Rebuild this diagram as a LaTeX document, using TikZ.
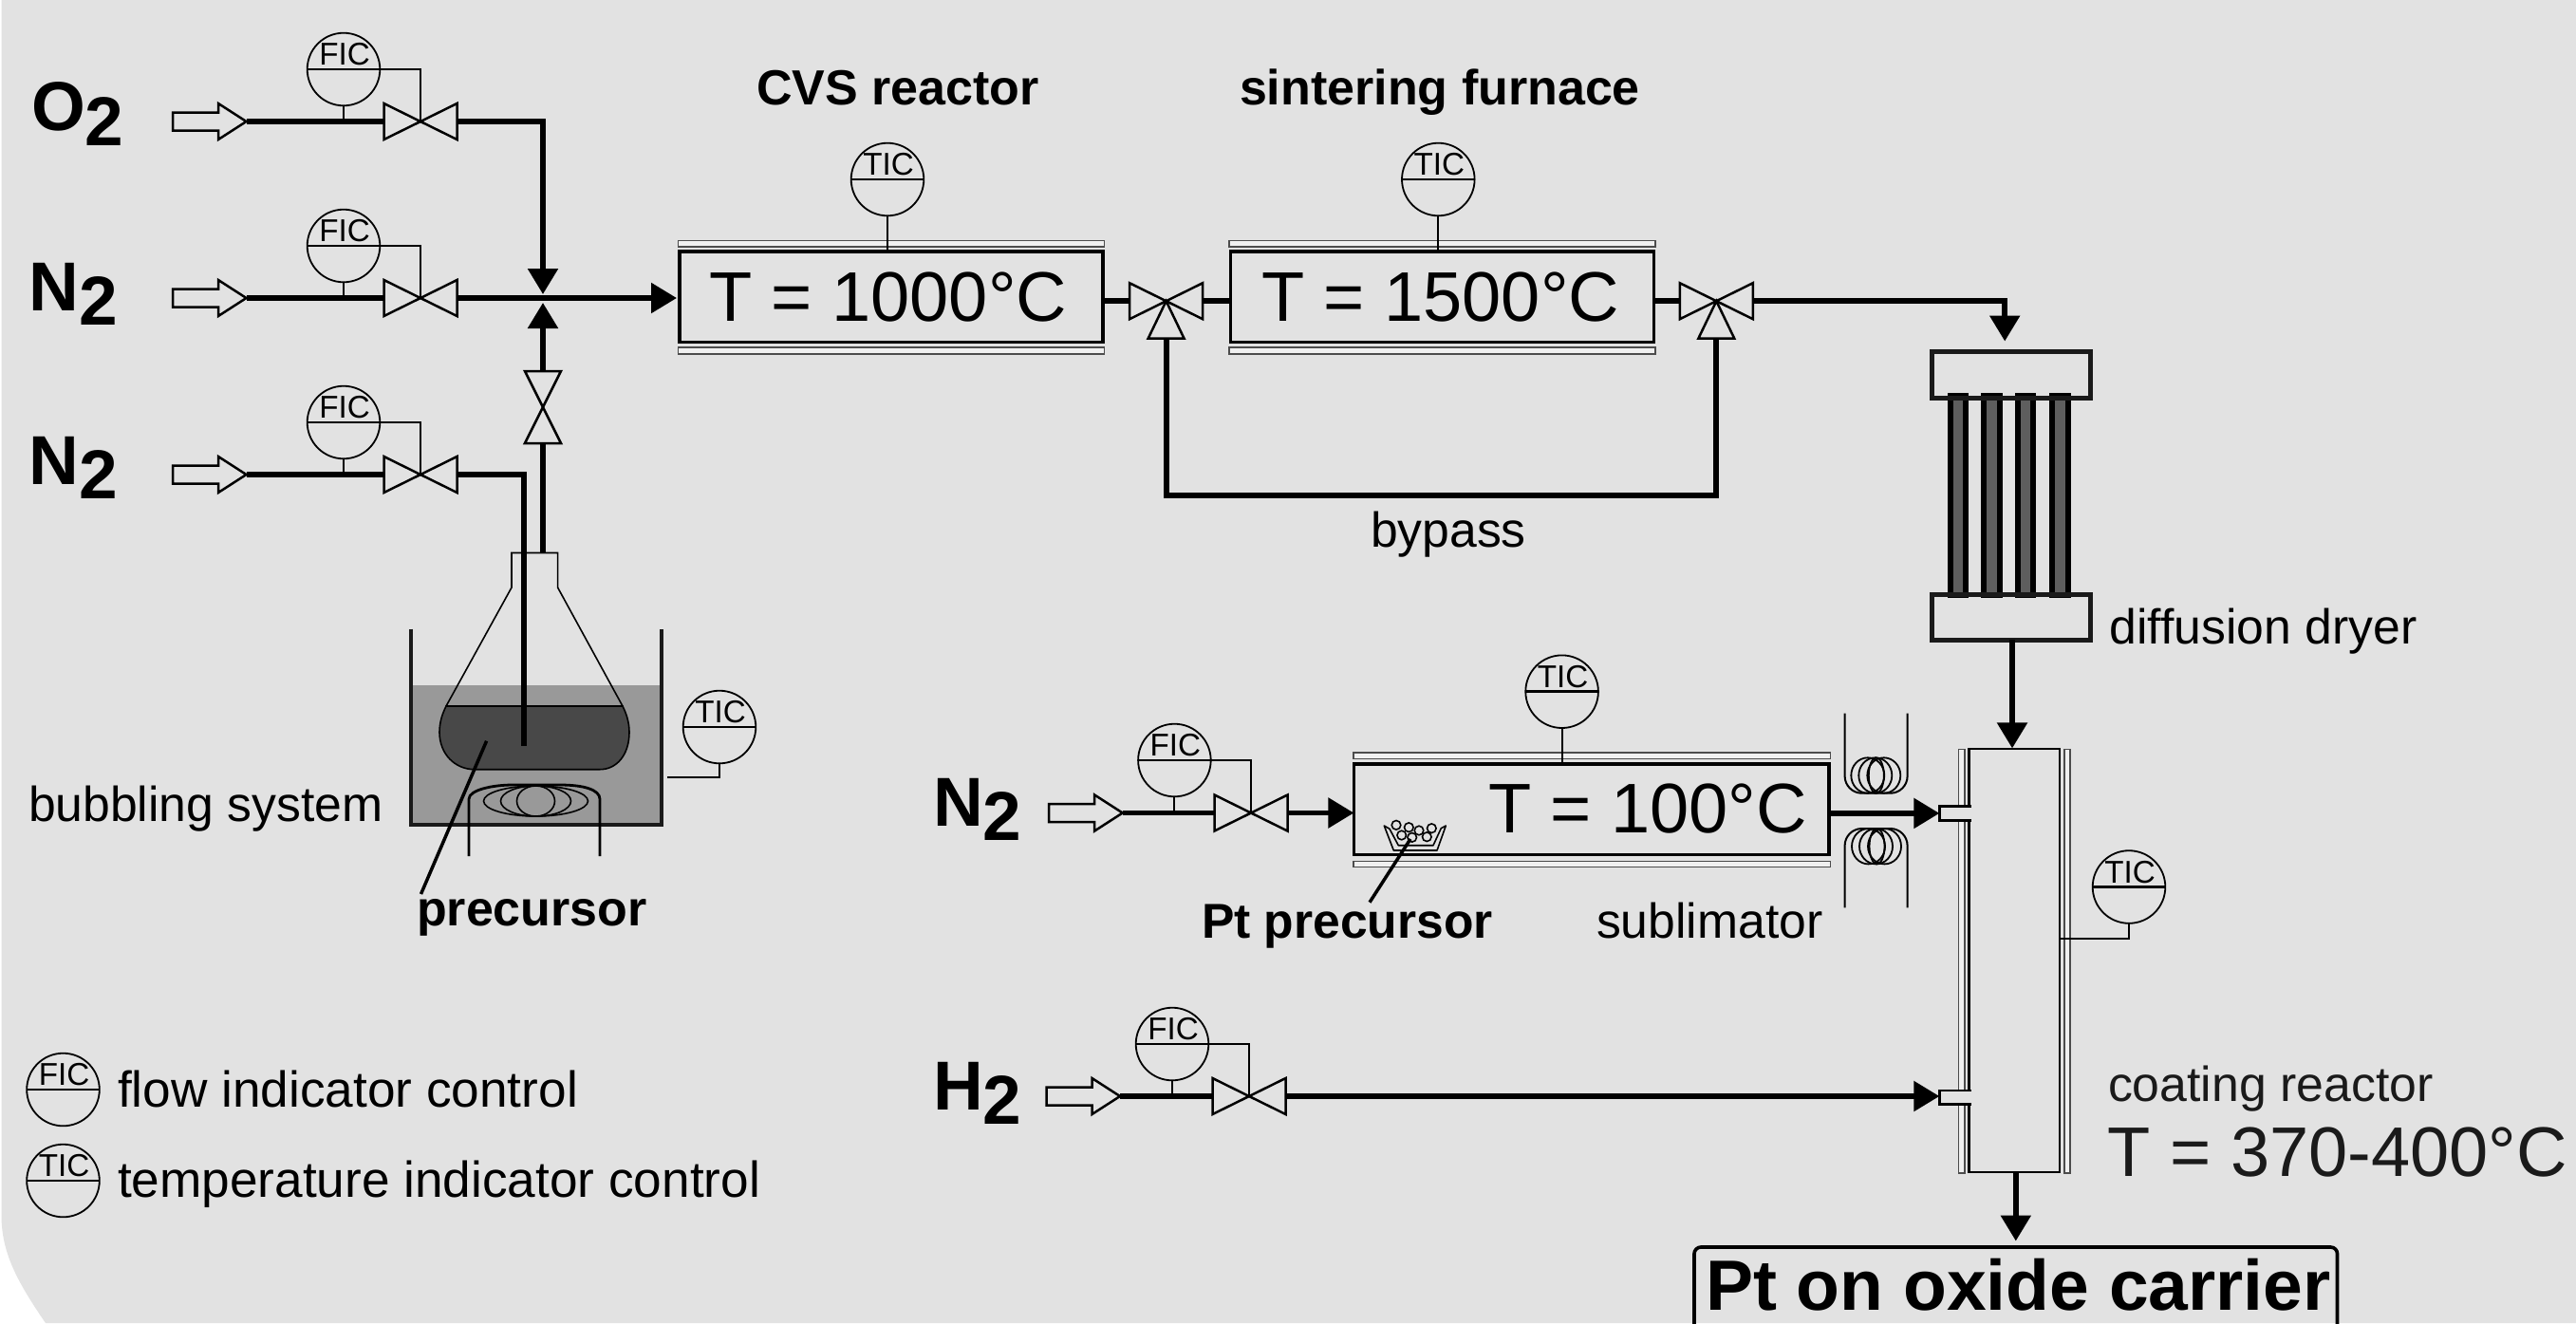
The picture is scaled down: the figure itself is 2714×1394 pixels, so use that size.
\documentclass[tikz,border=0pt]{standalone}
\usepackage{fontspec}
\setmainfont[Ligatures=NoCommon]{Liberation Sans}
\usetikzlibrary{arrows.meta,fit,shapes.geometric}
\definecolor{bggray}{HTML}{E2E2E2}
\definecolor{watergray}{HTML}{999999}
\definecolor{liquid}{HTML}{484848}
\definecolor{tubegray}{HTML}{5E5E5E}
\definecolor{inkdark}{HTML}{1A1A1A}
\tikzset{
  txtbase/.style={anchor=base west,inner sep=0pt,outer sep=0pt},
  lab/.style={txtbase,font=\fontsize{25.85}{30}\selectfont},
  labwide/.style={txtbase,font=\fontsize{26.6}{30}\selectfont},
  labbold/.style={txtbase,font=\fontsize{25.8}{30}\selectfont\bfseries},
  head/.style={txtbase,font=\fontsize{26}{30}\selectfont\bfseries},
  big/.style={txtbase,font=\fontsize{37}{42}\selectfont},
  gas/.style={txtbase,font=\fontsize{36.5}{42}\selectfont\bfseries},
  pipe/.style={line width=2.75pt,draw=black},
  flow/.style={pipe,-{Triangle[length=13.5pt,width=15.5pt]}},
  ctrl/.style={line width=1pt,draw=black},
  valveshape/.style={line width=1.25pt,draw=black,fill=bggray,line join=miter},
  feedshape/.style={line width=1.25pt,draw=black,fill=bggray,line join=miter},
  instshape/.style={circle,draw=black,line width=0.9pt,inner sep=0pt,outer sep=0pt,minimum size=38.3pt},
  instbar/.style={line width=1.25pt,draw=black},
  insttxt/.style={anchor=base,inner sep=0pt,outer sep=0pt,font=\fontsize{16.6}{18}\selectfont},
  boxshape/.style={rectangle,draw=black,line width=1.6pt,inner sep=0pt,outer sep=0pt},
  jacket/.style={rectangle,draw=black!70,line width=0.8pt,fill=bggray!50!white,inner sep=0pt,outer sep=0pt},
  dryerbox/.style={rectangle,draw=inkdark,line width=2.5pt,inner sep=0pt,outer sep=0pt},
  tube/.style={rectangle,draw=black,fill=tubegray,line width=3pt,inner sep=0pt,outer sep=0pt},
  coilline/.style={line width=0.9pt,draw=black},
  leader/.style={line width=1.75pt,draw=black},
}
\newcommand{\mkvalve}[3]{%
  \begin{scope}[shift={(#2,#3)}]
    \coordinate (#1) at (0,0);
    \coordinate (#1-l) at (-38.5,0);
    \coordinate (#1-r) at (38.5,0);
    \draw[valveshape] (-38.5,-19)--(0,0)--(-38.5,19)--cycle;
    \draw[valveshape] (38.5,-19)--(0,0)--(38.5,19)--cycle;
  \end{scope}}
\newcommand{\mkthreeway}[3]{%
  \mkvalve{#1}{#2}{#3}%
  \begin{scope}[shift={(#2,#3)}]
    \coordinate (#1-b) at (0,39.5);
    \draw[valveshape] (0,0)--(-19,39.5)--(19,39.5)--cycle;
  \end{scope}}
\newcommand{\mkvertvalve}[3]{%
  \begin{scope}[shift={(#2,#3)}]
    \coordinate (#1) at (0,0);
    \coordinate (#1-t) at (0,-38);
    \coordinate (#1-b) at (0,38);
    \draw[valveshape] (-19,-38)--(0,0)--(19,-38)--cycle;
    \draw[valveshape] (-19,38)--(0,0)--(19,38)--cycle;
  \end{scope}}
\newcommand{\mkfeed}[3]{%
  \begin{scope}[shift={(#2,#3)}]
    \coordinate (#1) at (0,0);
    \draw[feedshape] (-77.5,-9.5)--(-29.5,-9.5)--(-29.5,-19)--(0,0)--(-29.5,19)--(-29.5,9.5)--(-77.5,9.5)--cycle;
  \end{scope}}
\newcommand{\mkinst}[4]{%
  \node[instshape] (#1) at (#3,#4) {};
  \draw[instbar] (#1.west) -- (#1.east);
  \node[insttxt] (#1-txt) at ([yshift=2.2pt,xshift=0.5pt]#1.center) {#2};}
\newcommand{\mkcoil}[2]{%
  \foreach \dx/\rx in {-9/17.5,-1/17.5,8/17.5,0/8}{
    \draw[coilline] (#1+\dx,#2) ellipse [x radius=\rx,y radius=18.7];
  }}
\begin{document}
\begin{tikzpicture}[x=0.5pt,y=-0.5pt]
\clip (0,0) rectangle (2714,1394);
\fill[white] (0,0) rectangle (2714,1394);
% background panel
\fill[bggray] (1.5,0) -- (2714,0) -- (2714,1394) -- (48,1394) .. controls (18,1350) and (1.5,1320) .. (1.5,1280) -- cycle;

% ---- bubbling system
\fill[watergray] (433,722) rectangle (697,869);
\draw[line width=2.25pt,draw=inkdark] (433,662.5) -- (433,869) -- (697,869) -- (697,662.5);
\draw[ctrl,fill=liquid,line width=0.8pt] (470,744) .. controls (466,752) and (463,761) .. (463,771.5) .. controls (463,795) and (480,810.7) .. (500,810.7) -- (632,810.7) .. controls (650,810.7) and (663,795) .. (663,771.5) .. controls (663,761) and (660,752) .. (656,744) -- cycle;
\draw[line width=0.8pt,draw=black] (470,744) -- (539,619) -- (539,582.5) -- (587.6,582.5) -- (587.6,619) -- (656,744);
\draw[line width=1.4pt,draw=black] (494,902) -- (494,842) .. controls (494,832) and (520,827) .. (540,827) -- (590,827) .. controls (615,827) and (632,832) .. (632,842) -- (632,902);
\foreach \rx in {55,37,20}{
  \draw[line width=0.8pt,draw=black] (564.5,844) ellipse [x radius=\rx,y radius=16];
}
\coordinate (bulbpt) at (512.6,780.7);
\coordinate (leadend) at (443.5,942);
\draw[leader] (bulbpt) -- (leadend);
\node[lab] (bubblab) at (30,865.7) {bubbling system};
\node[labbold,font=\fontsize{26}{30}\selectfont\bfseries] (preclab) at (439,975.7) {precursor};

% ---- gas feeds, left
\node[gas] (o2lab) at (33,137.5) {O\raisebox{-7.75pt}{2}};
\node[gas] (n2lab1) at (31,327.5) {N\raisebox{-7.5pt}{2}};
\node[gas] (n2lab2) at (31,510.7) {N\raisebox{-7.5pt}{2}};
\mkfeed{f1}{259.5}{128}
\mkfeed{f2}{259.5}{314}
\mkfeed{f3}{259.5}{500}
\mkvalve{v1}{443}{128}
\mkvalve{v2}{443}{314}
\mkvalve{v3}{443}{500}
\mkvertvalve{vv}{572}{429}
\mkinst{fic1}{FIC}{362}{73}
\mkinst{fic2}{FIC}{362}{259}
\mkinst{fic3}{FIC}{362}{445}
\foreach \k in {1,2,3}{
  \draw[ctrl] (fic\k.east) -| (v\k);
  \draw[ctrl] (fic\k.south) -- (fic\k |- v\k);
  \draw[pipe] (f\k) -- (v\k-l);
}
\coordinate (mixdown) at (572,310);
\coordinate (mixup) at (572,319);
\coordinate (neck) at (572,582.5);
\coordinate (dip) at (552,786);
\draw[flow] (v1-r) -| (mixdown);
\draw[flow] (vv-t) -- (mixup);
\draw[pipe] (vv-b) -- (neck);
\draw[pipe] (v3-r) -| (dip);

% ---- CVS reactor and sintering furnace
\node[head] (cvslab) at (797,110.7) {CVS reactor};
\node[head] (sinlab) at (1306,110.7) {sintering furnace};
\node[jacket,fit={(714.4,253.3)(1163.5,260)}] (j1a) {};
\node[jacket,fit={(714.4,366)(1163.5,372.7)}] (j1b) {};
\node[boxshape,fit={(716,265)(1162,360.7)}] (box1) {};
\node[big] (t1000) at (747,338) {T = 1000°C};
\node[jacket,fit={(1295,253.3)(1744,260)}] (j2a) {};
\node[jacket,fit={(1295,366)(1744,372.7)}] (j2b) {};
\node[boxshape,fit={(1296.7,265)(1742.7,360.7)}] (box2) {};
\node[big] (t1500) at (1329,338) {T = 1500°C};
\mkinst{tic1}{TIC}{935}{189}
\mkinst{tic2}{TIC}{1515.3}{189}
\draw[ctrl] (tic1.south) -- (tic1 |- box1.north);
\draw[ctrl] (tic2.south) -- (tic2 |- box2.north);
\coordinate (box1in) at (713,314);
\draw[flow] (v2-r) -- (box1in);
\mkthreeway{w1}{1228.6}{317.2}
\mkthreeway{w2}{1808.3}{317.2}
\draw[pipe,line width=3.1pt] (box1.east |- w1) -- (w1-l);
\draw[pipe,line width=3.1pt] (w1-r) -- (box2.west |- w1);
\draw[pipe,line width=3.1pt] (box2.east |- w2) -- (w2-l);
\coordinate (bypassl) at (1228.6,521.7);
\coordinate (bypassr) at (1808.3,521.7);
\draw[pipe,line width=3.1pt,line join=miter] (w1-b) -- (bypassl) -- (bypassr) -- (w2-b);
\node[lab] (bypasslab) at (1444,576.7) {bypass};

% ---- diffusion dryer
\node[tube,fit={(2055,417)(2071.3,627)}] (tb1) {};
\node[tube,fit={(2090.3,417)(2106.5,627)}] (tb2) {};
\node[tube,fit={(2126,417)(2142,627)}] (tb3) {};
\node[tube,fit={(2162,417)(2178.5,627)}] (tb4) {};
\node[dryerbox,fit={(2035,370.5)(2202.3,419)}] (dry1) {};
\node[dryerbox,fit={(2035,626.5)(2202.3,674)}] (dry2) {};
\coordinate (drybend) at (2112.2,317.2);
\coordinate (dryin) at (2112.2,359.5);
\draw[flow,line join=miter] (w2-r) -- (drybend) -- (dryin);
\node[lab] (drylab) at (2222.5,678) {diffusion dryer};

% ---- coating reactor
\node[jacket,fit={(2063.5,789.3)(2069.8,849)}] (jl1) {};
\node[jacket,fit={(2063.5,864.5)(2069.8,1149)}] (jl2) {};
\node[jacket,fit={(2063.5,1163.6)(2069.8,1236)}] (jl3) {};
\node[jacket,fit={(2174.7,789.3)(2181,1236)}] (jr) {};
\node[boxshape,line width=1.4pt,fit={(2074.5,789)(2170,1235)}] (coat) {};
\coordinate (coatin) at (2120,788.4);
\draw[flow] (dry2.south -| coatin) -- (coatin);
\node[fill=bggray,inner sep=0pt,outer sep=0pt,fit={(2043.3,849.4)(2076.5,864.4)}] (port1) {};
\node[fill=bggray,inner sep=0pt,outer sep=0pt,fit={(2043.3,1149)(2076.5,1163.6)}] (port2) {};
\draw[line width=1.25pt] (port1.north east) -- (port1.north west) -- (port1.south west) -- (port1.south east);
\draw[line width=1.25pt] (port2.north east) -- (port2.north west) -- (port2.south west) -- (port2.south east);
\mkinst{tic3}{TIC}{2243}{934.5}
\coordinate (ticwall) at (2170,988.7);
\draw[ctrl] (tic3.south) |- (ticwall);
\node[lab,font=\fontsize{25.9}{30}\selectfont,text=inkdark] (coatlab) at (2221,1160) {coating reactor};
\node[big,font=\fontsize{37}{42}\selectfont,text=inkdark] (t370) at (2220.5,1239) {T = 370-400°C};
\node[boxshape,rounded corners=3.5pt,line width=1.8pt,fit={(1785,1314)(2462.5,1440)}] (carrier) {};
\coordinate (carrierin) at (2123.8,1307.5);
\draw[flow] (coat.south -| carrierin) -- (carrierin);
\node[big,font=\fontsize{37.5}{42}\selectfont\bfseries] (ptlab) at (1797,1380.7) {Pt on oxide carrier};

% ---- sublimator
\node[gas] (n2lab3) at (983,870) {N\raisebox{-7.5pt}{2}};
\node[jacket,fit={(1426,792.7)(1928.5,799.3)}] (j3a) {};
\node[jacket,fit={(1426,907.3)(1928.5,913.3)}] (j3b) {};
\node[boxshape,fit={(1426.4,805)(1927,900.7)}] (box3) {};
\node[big] (t100) at (1568,877.3) {T = 100°C};
\mkfeed{f4}{1182.7}{856.5}
\mkvalve{v4}{1318}{856.5}
\mkinst{fic4}{FIC}{1237.4}{801}
\draw[ctrl] (fic4.east) -| (v4);
\draw[ctrl] (fic4.south) -- (fic4 |- v4);
\draw[pipe] (f4) -- (v4-l);
\draw[flow] (v4-r) -- (box3.west |- v4);
\mkinst{tic4}{TIC}{1645.6}{728.7}
\draw[ctrl] (tic4.south) -- (tic4 |- box3.north);
\draw[flow] (box3.east |- port1) -- (port1.west);
\draw[ctrl,rounded corners=9pt] (1943.6,751.5) -- (1943.6,835.7) -- (2009.6,835.7) -- (2009.6,751.5);
\draw[ctrl,rounded corners=9pt] (1943.6,956.4) -- (1943.6,873) -- (2009.6,873) -- (2009.6,956.4);
\mkcoil{1976.8}{817}
\mkcoil{1977.5}{891.7}
% boat with precursor
\draw[line width=0.8pt,draw=black,line join=round] (1458.3,870) -- (1468.3,896) -- (1514,896) -- (1523.3,870) -- (1518.3,872.7) -- (1510,890.7) -- (1473.3,890.7) -- (1464,873.3) -- cycle;
\foreach \bx/\by in {1471/869.3,1484.3/871.7,1495/875,1508.3/872.7,1476.7/880,1487.7/882.3,1503.3/881.7}{
  \draw[line width=0.8pt,draw=black,fill=bggray] (\bx,\by) circle [radius=4.8];
}
\coordinate (boatpt) at (1486,884);
\coordinate (boatend) at (1443,950.7);
\draw[leader] (boatpt) -- (boatend);
\node[labbold] (ptprec) at (1266,988) {Pt precursor};
\node[lab] (sublab) at (1682,988) {sublimator};

% ---- H2 line
\node[gas] (h2lab) at (983,1169) {H\raisebox{-7.5pt}{2}};
\mkfeed{f5}{1180}{1155}
\mkvalve{v5}{1316}{1155}
\mkinst{fic5}{FIC}{1235}{1100}
\draw[ctrl] (fic5.east) -| (v5);
\draw[ctrl] (fic5.south) -- (fic5 |- v5);
\draw[pipe] (f5) -- (v5-l);
\draw[flow] (v5-r) -- (v5-r -| port2.west);

% ---- bath thermostat
\mkinst{ticb}{TIC}{758}{766}
\coordinate (bathwall) at (703,819.4);
\draw[ctrl] (ticb.south) |- (bathwall);

% ---- legend
\mkinst{legf}{FIC}{66.5}{1148}
\mkinst{legt}{TIC}{66.5}{1244}
\node[labwide] (flowlab) at (124,1166.3) {flow indicator control};
\node[labwide] (templab) at (124,1261.6) {temperature indicator control};
\end{tikzpicture}
\end{document}
